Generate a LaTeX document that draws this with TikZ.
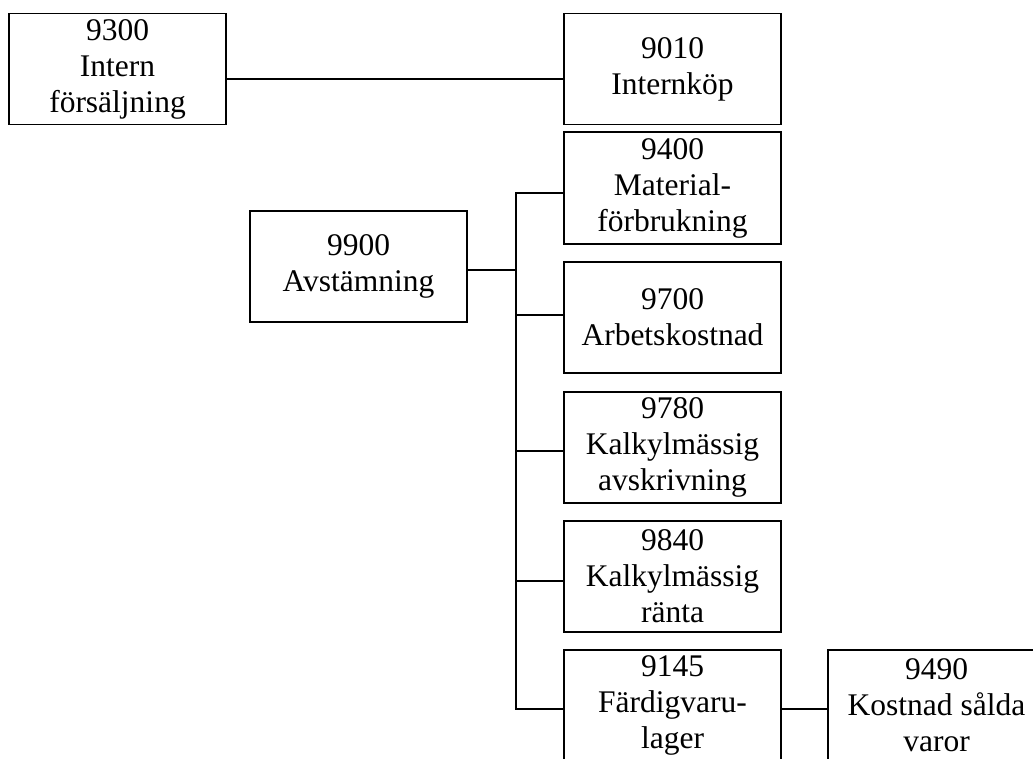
\documentclass[tikz,border=0pt]{standalone}
\usepackage{fontspec}
\setmainfont{Liberation Serif}
\begin{document}
\begin{tikzpicture}[x=1pt,y=-1pt,
  acct/.style={draw, line width=1.4pt, rectangle, minimum width=217pt,
    minimum height=111pt, inner sep=0pt, align=center,
    font=\fontsize{31.5}{36}\selectfont},
  link/.style={line width=1.4pt}]
\clip (0,0) rectangle (1033,758);
\fill[white] (0,0) rectangle (1033,758);

% account boxes
\node[acct] (n9300) at (117.5,69) {9300\\Intern\\försäljning};
\node[acct] (n9010) at (672.5,69) {9010\\Internköp};
\node[acct, minimum height=112pt] (n9400) at (672.5,188) {9400\\Material-\\förbrukning};
\node[acct] (n9900) at (358.5,266.5) {9900\\Avstämning};
\node[acct] (n9700) at (672.5,317.5) {9700\\Arbetskostnad};
\node[acct] (n9780) at (672.5,447.5) {9780\\Kalkylmässig\\avskrivning};
\node[acct] (n9840) at (672.5,576.5) {9840\\Kalkylmässig\\ränta};
\node[acct] (n9145) at (672.5,705.5) {9145\\Färdigvaru-\\lager};
\node[acct] (n9490) at (936.5,705.5) {9490\\Kostnad sålda\\varor};

% vertical bus and its branch points
\coordinate (top) at (516,193);
\coordinate (hub) at (516,270);
\coordinate (b2) at (516,315);
\coordinate (b3) at (516,451);
\coordinate (b4) at (516,581);
\coordinate (bot) at (516,709);

% connectors
\draw[link] ([yshift=-10pt]n9300.east) -- ([yshift=-10pt]n9010.west);
\draw[link] (top -| n9400.west) -- (top) -- (bot) -- (bot -| n9145.west);
\draw[link] (hub -| n9900.east) -- (hub);
\draw[link] (b2) -- (b2 -| n9700.west);
\draw[link] (b3) -- (b3 -| n9780.west);
\draw[link] (b4) -- (b4 -| n9840.west);
\draw[link] (bot -| n9145.east) -- (bot -| n9490.west);
\end{tikzpicture}
\end{document}
